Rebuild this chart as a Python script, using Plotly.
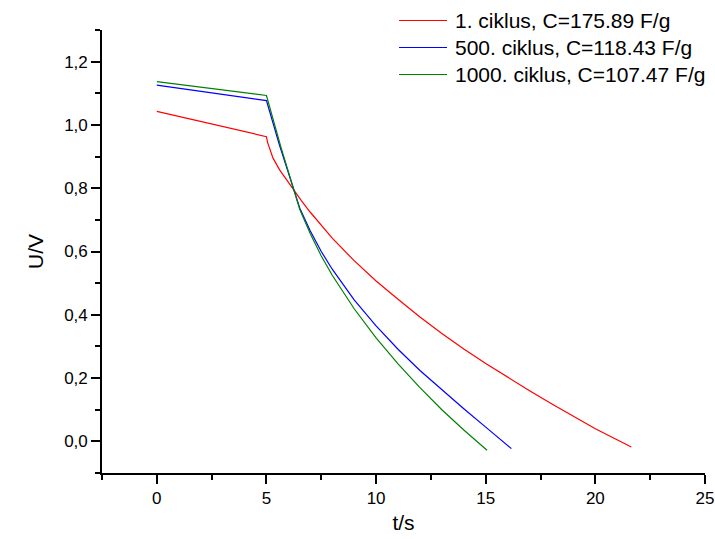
import plotly.graph_objects as go

# ---- data ----
t_c1 = [0, 1, 2, 3, 4, 5, 5.05, 5.15, 5.3, 5.6, 6.0, 6.22, 6.6, 7.0, 7.5, 8.0, 9.0, 10.0,
        11.0, 12.0, 13.0, 14.0, 15.0, 16.0, 17.0, 18.0, 19.0, 20.0, 21.64]
u_c1 = [1.043, 1.027, 1.011, 0.995, 0.979, 0.963, 0.945, 0.922, 0.895, 0.858, 0.818,
        0.797, 0.760, 0.724, 0.682, 0.642, 0.571, 0.507, 0.449, 0.393, 0.341, 0.292,
        0.246, 0.202, 0.160, 0.119, 0.079, 0.040, -0.018]

t_c500 = [0, 1, 2, 3, 4, 5, 5.6, 6.22, 6.52, 7.0, 7.5, 8.0, 8.5, 9.0, 10.0, 11.0,
          12.0, 13.0, 14.0, 15.0, 16.17]
u_c500 = [1.126, 1.116, 1.106, 1.096, 1.087, 1.077, 0.935, 0.797, 0.737, 0.665, 0.600,
          0.544, 0.494, 0.447, 0.365, 0.291, 0.224, 0.162, 0.103, 0.045, -0.023]

t_c1000 = [0, 1, 2, 3, 4, 5, 5.68, 6.22, 6.52, 7.0, 7.5, 8.0, 8.5, 9.0, 10.0, 11.0,
           12.0, 13.0, 14.0, 15.06]
u_c1000 = [1.137, 1.128, 1.119, 1.110, 1.102, 1.093, 0.925, 0.797, 0.733, 0.656, 0.586,
           0.525, 0.470, 0.419, 0.327, 0.245, 0.170, 0.100, 0.036, -0.028]

series_names = ["1. ciklus, C=175.89 F/g",
                "500. ciklus, C=118.43 F/g",
                "1000. ciklus, C=107.47 F/g"]
series_colors = ["#FF0000", "#0000FF", "#008000"]

x_title = "t/s"
y_title = "U/V"

FONT = "Liberation Sans, Arial, sans-serif"

# plot-area geometry (pixels)
W, H = 715, 539
ML, MR, MT, MB = 102, 10, 30, 66
PW, PH = W - ML - MR, H - MT - MB

fig = go.Figure()
for t, u, name, col in zip([t_c1, t_c500, t_c1000], [u_c1, u_c500, u_c1000],
                           series_names, series_colors):
    fig.add_trace(go.Scatter(x=t, y=u, mode="lines", name=name, showlegend=False,
                             line=dict(color=col, width=1.2)))

axis_common = dict(
    showline=True, linecolor="black", linewidth=1.6, mirror=False,
    showgrid=False, zeroline=False,
    ticks="outside", ticklen=9, tickwidth=1.6, tickcolor="black",
    tickfont=dict(family=FONT, size=17, color="black"),
)

fig.update_xaxes(range=[-2.5, 25], tick0=0, dtick=5,
                 minor=dict(dtick=2.5, tick0=0, ticks="outside", ticklen=5,
                            tickwidth=1.6, tickcolor="black"),
                 title=dict(text=x_title, font=dict(family=FONT, size=21, color="black"),
                            standoff=8),
                 **axis_common)
fig.update_yaxes(range=[-0.1, 1.3], tick0=0, dtick=0.2, tickformat=".1f",
                 minor=dict(dtick=0.1, tick0=0, ticks="outside", ticklen=5,
                            tickwidth=1.6, tickcolor="black"),
                 title=dict(text=y_title, font=dict(family=FONT, size=21, color="black"),
                            standoff=15),
                 **axis_common)

# legend drawn as line samples + text labels above the plot area
legend_rows_px = [20.5, 47.5, 74.5]
line_x0_px, line_x1_px, text_x_px = 399, 447, 453
for name, col, ypx in zip(series_names, series_colors, legend_rows_px):
    yp = (H - MB - ypx) / PH
    fig.add_shape(type="line", xref="paper", yref="paper",
                  x0=(line_x0_px - ML) / PW, x1=(line_x1_px - ML) / PW, y0=yp, y1=yp,
                  line=dict(color=col, width=1.2))
    fig.add_annotation(xref="paper", yref="paper", x=(text_x_px - ML) / PW, y=yp,
                       xanchor="left", yanchor="middle", showarrow=False,
                       text=name, font=dict(family=FONT, size=21, color="black"))

fig.update_layout(
    width=W, height=H,
    margin=dict(l=ML, r=MR, t=MT, b=MB, autoexpand=False),
    plot_bgcolor="white", paper_bgcolor="white",
    separators=",.",
    font=dict(family=FONT, color="black"),
    showlegend=False,
)

fig.write_html("out.html", config={"displayModeBar": False},
               post_script="document.body.style.margin='0';document.body.style.overflow='hidden';")
